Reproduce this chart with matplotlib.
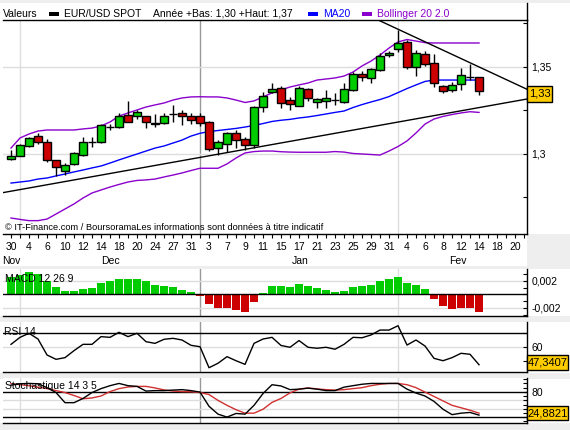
import matplotlib
matplotlib.use('Agg')
import matplotlib.pyplot as plt
from matplotlib.patches import Rectangle
from matplotlib.lines import Line2D
import numpy as np

plt.rcParams['font.family'] = ['Liberation Sans', 'DejaVu Sans']

# ---------------- data ----------------
opens = [1.2971, 1.2990, 1.3048, 1.3105, 1.3067, 1.2964, 1.2904, 1.2941, 1.2994, 1.3070,
         1.3067, 1.3153, 1.3153, 1.3222, 1.3218, 1.3220, 1.3171, 1.3176, 1.3230, 1.3237,
         1.3220, 1.3220, 1.3182, 1.3033, 1.3057, 1.3119, 1.3086, 1.3052, 1.3268, 1.3355,
         1.3378, 1.3310, 1.3278, 1.3372, 1.3301, 1.3305, 1.3310, 1.3297, 1.3368, 1.3458,
         1.3439, 1.3483, 1.3567, 1.3603, 1.3642, 1.3502, 1.3573, 1.3521, 1.3391, 1.3366,
         1.3402, 1.3444, 1.3441]
highs = [1.3023, 1.3057, 1.3099, 1.3119, 1.3084, 1.2964, 1.2947, 1.3013, 1.3098, 1.3099,
         1.3172, 1.3174, 1.3234, 1.3307, 1.3253, 1.3220, 1.3228, 1.3236, 1.3282, 1.3253,
         1.3234, 1.3233, 1.3187, 1.3080, 1.3126, 1.3138, 1.3095, 1.3276, 1.3359, 1.3406,
         1.3393, 1.3328, 1.3391, 1.3379, 1.3322, 1.3368, 1.3349, 1.3406, 1.3471, 1.3479,
         1.3494, 1.3580, 1.3592, 1.3713, 1.3655, 1.3598, 1.3592, 1.3573, 1.3399, 1.3414,
         1.3493, 1.3517, 1.3441]
lows = [1.2964, 1.2989, 1.3042, 1.3056, 1.2956, 1.2874, 1.2879, 1.2937, 1.2989, 1.3042,
        1.3061, 1.3138, 1.3149, 1.3184, 1.3199, 1.3151, 1.3157, 1.3172, 1.3182, 1.3167,
        1.3170, 1.3161, 1.3019, 1.2994, 1.3013, 1.3033, 1.3023, 1.3033, 1.3243, 1.3348,
        1.3263, 1.3253, 1.3273, 1.3306, 1.3265, 1.3263, 1.3282, 1.3293, 1.3362, 1.3420,
        1.3410, 1.3477, 1.3557, 1.3584, 1.3491, 1.3450, 1.3506, 1.3383, 1.3349, 1.3356,
        1.3368, 1.3425, 1.3339]
closes = [1.2989, 1.3052, 1.3090, 1.3067, 1.2964, 1.2924, 1.2935, 1.3004, 1.3067, 1.3071,
          1.3167, 1.3154, 1.3220, 1.3186, 1.3240, 1.3182, 1.3180, 1.3220, 1.3231, 1.3218,
          1.3195, 1.3181, 1.3027, 1.3067, 1.3119, 1.3080, 1.3052, 1.3268, 1.3335, 1.3372,
          1.3291, 1.3287, 1.3378, 1.3324, 1.3314, 1.3320, 1.3311, 1.3372, 1.3458, 1.3444,
          1.3487, 1.3565, 1.3579, 1.3636, 1.3498, 1.3579, 1.3517, 1.3406, 1.3362, 1.3397,
          1.3452, 1.3445, 1.3362]

ma20 = [1.2833, 1.2839, 1.2845, 1.2856, 1.2862, 1.2874, 1.2885, 1.2897, 1.2908, 1.2920,
        1.2931, 1.2948, 1.2966, 1.2983, 1.3000, 1.3017, 1.3034, 1.3046, 1.3063, 1.3080,
        1.3103, 1.3119, 1.3129, 1.3135, 1.3141, 1.3147, 1.3155, 1.3164, 1.3175, 1.3187,
        1.3194, 1.3199, 1.3207, 1.3213, 1.3221, 1.3230, 1.3239, 1.3247, 1.3267, 1.3284,
        1.3299, 1.3313, 1.3330, 1.3353, 1.3376, 1.3397, 1.3417, 1.3425, 1.3425, 1.3425,
        1.3425, 1.3425, 1.3425]
boll_up = [1.3034, 1.3092, 1.3115, 1.3132, 1.3138, 1.3138, 1.3138, 1.3138, 1.3144, 1.3149,
           1.3161, 1.3184, 1.3218, 1.3236, 1.3253, 1.3270, 1.3282, 1.3293, 1.3310, 1.3322,
           1.3328, 1.3329, 1.3328, 1.3328, 1.3322, 1.3310, 1.3296, 1.3305, 1.3328, 1.3351,
           1.3368, 1.3385, 1.3397, 1.3408, 1.3425, 1.3431, 1.3437, 1.3448, 1.3471, 1.3506,
           1.3534, 1.3569, 1.3609, 1.3644, 1.3658, 1.3649, 1.3640, 1.3638, 1.3638, 1.3638,
           1.3638, 1.3638, 1.3638]
boll_low = [1.2632, 1.2624, 1.2617, 1.2617, 1.2626, 1.2655, 1.2684, 1.2713, 1.2747, 1.2776,
            1.2793, 1.2810, 1.2825, 1.2839, 1.2848, 1.2851, 1.2856, 1.2868, 1.2879, 1.2891,
            1.2905, 1.2918, 1.2918, 1.2918, 1.2943, 1.2977, 1.3006, 1.3014, 1.3017, 1.3017,
            1.3013, 1.3011, 1.3010, 1.3010, 1.3010, 1.3010, 1.3014, 1.3011, 1.3003, 1.3000,
            1.2997, 1.2994, 1.3017, 1.3043, 1.3075, 1.3121, 1.3172, 1.3201, 1.3216, 1.3227,
            1.3236, 1.3243, 1.3239]

support_x = [-0.89, 57.33]
support_y = [1.2778, 1.3316]
resist_x = [40.8, 57.33]
resist_y = [1.3770, 1.3372]

macd_hist = [0.0026, 0.0029, 0.0033, 0.0030, 0.0020, 0.0011, 0.0005, 0.0005, 0.0008, 0.0009,
             0.0017, 0.0019, 0.0023, 0.0023, 0.0023, 0.0019, 0.0014, 0.0012, 0.0011, 0.0007,
             0.0003, -0.0002, -0.0015, -0.0021, -0.0021, -0.0023, -0.0026, -0.0012, 0.0002, 0.0013,
             0.0013, 0.0011, 0.0015, 0.0013, 0.0009, 0.0007, 0.0004, 0.0005, 0.0011, 0.0013,
             0.0014, 0.0020, 0.0023, 0.0026, 0.0017, 0.0014, 0.0008, -0.0007, -0.0017, -0.0022,
             -0.0020, -0.0020, -0.0026]

rsi = [61.9, 66.9, 69.8, 65.7, 54.3, 51.2, 52.4, 57.4, 61.9, 61.9,
       67.4, 66.9, 70.5, 67.4, 69.8, 63.8, 62.6, 65.5, 66.2, 65.0,
       61.2, 60.2, 45.2, 48.4, 53.1, 50.2, 47.6, 62.6, 65.7, 66.9,
       61.1, 59.8, 64.6, 59.8, 59.1, 59.8, 58.4, 61.9, 66.9, 66.6,
       68.6, 72.1, 72.1, 75.2, 61.4, 65.0, 60.7, 51.9, 50.2, 52.4,
       55.5, 54.8, 47.34]

stoch_k = [95.8, 99.3, 100.0, 99.3, 90.0, 78.4, 54.4, 54.4, 64.4, 78.4,
           87.7, 94.7, 100.0, 94.7, 93.0, 81.9, 83.0, 83.0, 84.2, 85.3,
           83.0, 79.5, 45.8, 27.2, 20.2, 28.8, 27.2, 48.1, 76.0, 97.0,
           94.0, 85.3, 86.5, 88.8, 86.5, 83.0, 83.0, 91.2, 94.7, 98.1,
           100.0, 100.0, 100.0, 100.0, 86.5, 77.2, 70.2, 57.4, 38.8, 26.0,
           29.5, 31.2, 24.88]
stoch_d = [99.3, 97.0, 94.7, 91.2, 87.7, 83.0, 78.4, 71.4, 63.7, 65.6,
           70.2, 80.7, 87.7, 91.6, 93.0, 93.0, 89.3, 84.7, 81.9, 80.7,
           80.2, 78.4, 73.7, 59.8, 48.1, 37.7, 29.5, 29.5, 38.8, 55.1,
           64.4, 77.7, 86.5, 89.3, 87.0, 85.3, 84.2, 85.3, 87.7, 90.0,
           94.7, 98.1, 100.0, 100.0, 97.0, 90.0, 79.5, 69.1, 58.6, 48.1,
           42.3, 36.5, 29.5]

day_labels = ['30', '4', '6', '10', '12', '14', '18', '20', '24', '27', '31', '3', '7', '9',
              '11', '15', '17', '21', '23', '25', '29', '31', '4', '6', '8', '12', '14', '18', '20']
month_labels = ['Nov', 'Dec', 'Jan', 'Fev']
month_label_pos = [0.0, 11.1, 32.1, 49.7]
month_starts = [1, 21, 43]
year_start = 21

# ---------------- layout helpers ----------------
W, H = 570, 430
fig = plt.figure(figsize=(W / 100, H / 100), dpi=100, facecolor='#EEEEEE')

GREEN = '#00CC00'
RED = '#CC0000'
PURPLE = '#8A00CC'
BLUE = '#0000FF'
GRID = '#DDDDDD'
YEL = '#FFCC00'
FS = 7.5


def add_ax(l, t, r, b):
    return fig.add_axes([l / W, 1 - b / H, (r - l) / W, (b - t) / H])


def bg(l, t, r, b, color='white'):
    fig.add_artist(Rectangle((l / W, 1 - b / H), (r - l) / W, (b - t) / H,
                             transform=fig.transFigure, facecolor=color,
                             edgecolor='none', zorder=-10))


def ftext(x, y, s, **kw):
    kw.setdefault('fontsize', FS)
    kw.setdefault('va', 'center')
    fig.text(x / W, 1 - y / H, s, **kw)


def value_box(l, t, r, b, s):
    fig.add_artist(Rectangle((l / W, 1 - b / H), (r - l) / W, (b - t) / H,
                             transform=fig.transFigure, facecolor=YEL,
                             edgecolor='black', linewidth=1.0, zorder=20))
    fig.text((l + r) / 2 / W, 1 - (t + b) / 2 / H, s, fontsize=8, ha='center',
             va='center', zorder=21)


bg(0, 3, 570, 234)
bg(0, 234, 527, 266)
bg(0, 269, 570, 316)
bg(0, 322, 570, 372.5)
bg(0, 378.5, 570, 423)

idx = np.arange(len(opens))
XL = (-0.89, 57.33)


def style_panel(ax):
    ax.set_xlim(*XL)
    for s in ['left', 'top']:
        ax.spines[s].set_visible(False)
    for s in ['bottom', 'right']:
        ax.spines[s].set_color('black')
        ax.spines[s].set_linewidth(1.0)
    ax.yaxis.tick_right()
    ax.tick_params(axis='y', direction='in', length=3, width=0.8, labelsize=FS, pad=3)
    ax.set_xticks([])
    for m in month_starts:
        ax.axvline(m, color=('#999999' if m == year_start else GRID), lw=1.0, zorder=0)


# ---------------- main price chart ----------------
ax = add_ax(3, 20, 527, 234)
style_panel(ax)
ax.spines['top'].set_visible(True)
ax.spines['top'].set_linewidth(1.0)
ax.set_ylim(1.25402, 1.37701)
ax.set_yticks([1.275, 1.30, 1.325, 1.35, 1.375])
ax.set_yticklabels(['', '1,3', '', '1,35', ''])
ax.axhline(1.30, color=GRID, lw=1.0, zorder=0)
ax.axhline(1.35, color=GRID, lw=1.0, zorder=0)

ax.set_xticks(np.arange(0, 57, 2))
ax.set_xticklabels(day_labels)
ax.set_xticks(idx.tolist() + [53, 54, 55, 56, 57], minor=True)
ax.tick_params(axis='x', which='both', direction='out', length=3, width=0.8,
               labelsize=FS, pad=2.5)

ax.plot(idx, boll_up, color=PURPLE, lw=1.0, zorder=2)
ax.plot(idx, boll_low, color=PURPLE, lw=1.0, zorder=2)
ax.plot(idx, ma20, color=BLUE, lw=1.0, zorder=2)
ax.plot(support_x, support_y, color='black', lw=1.0, zorder=2)
ax.plot(resist_x, resist_y, color='black', lw=1.0, zorder=2)

o = np.array(opens); c = np.array(closes)
cols = [GREEN if cc >= oo else RED for oo, cc in zip(o, c)]
ax.vlines(idx, lows, highs, color='black', lw=1.0, zorder=3)
ax.bar(idx, np.maximum(np.abs(c - o), 0.00008), bottom=np.minimum(o, c), width=0.8,
       color=cols, edgecolor='black', linewidth=1.0, zorder=4)

for lab, pos in zip(month_labels, month_label_pos):
    ax.text(pos, -0.124, lab, transform=ax.get_xaxis_transform(), ha='center',
            va='center', fontsize=FS)

ftext(5, 228, '\u00a9 IT-Finance.com / BoursoramaLes informations sont donn\u00e9es \u00e0 titre indicatif',
      fontsize=6.7, ha='left')

# right spine extension into header
fig.add_artist(Line2D([526.5 / W, 526.5 / W], [1 - 3 / H, 1 - 20 / H], color='black',
                      lw=1.0, transform=fig.transFigure))

# header
ftext(3, 14, 'Valeurs', ha='left')
fig.add_artist(Rectangle((49 / W, 1 - 15.5 / H), 10 / W, 3 / H, transform=fig.transFigure,
                         facecolor='black', edgecolor='none'))
ftext(64, 14, 'EUR/USD SPOT', ha='left')
ftext(153, 14, 'Ann\u00e9e +Bas: 1,30 +Haut: 1,37', ha='left')
fig.add_artist(Rectangle((308 / W, 1 - 15.5 / H), 10 / W, 3 / H, transform=fig.transFigure,
                         facecolor=BLUE, edgecolor='none'))
ftext(323, 14, 'MA20', ha='left', color=BLUE)
fig.add_artist(Rectangle((362 / W, 1 - 15.5 / H), 10 / W, 3 / H, transform=fig.transFigure,
                         facecolor=PURPLE, edgecolor='none'))
ftext(377, 14, 'Bollinger 20 2.0', ha='left', color=PURPLE)

value_box(527, 86, 552, 102, '1,33')

# ---------------- MACD ----------------
ax2 = add_ax(3, 269, 527, 316)
style_panel(ax2)
ax2.set_ylim(-0.003215, 0.003748)
ax2.set_yticks([-0.003, -0.002, -0.001, 0, 0.001, 0.002, 0.003])
ax2.set_yticklabels(['', '-0,002', '', '', '', '0,002', ''])
ax2.axhline(0.002, color=GRID, lw=1.0, zorder=0)
ax2.axhline(-0.002, color=GRID, lw=1.0, zorder=0)
mh = np.array(macd_hist)
ax2.bar(idx, mh, width=0.88, color=[GREEN if v >= 0 else RED for v in mh], zorder=2)
ax2.axhline(0, color='black', lw=1.0, zorder=3)
ax2.text(0.004, 0.78, 'MACD 12 26 9', transform=ax2.transAxes, fontsize=FS,
         ha='left', va='center', zorder=5)

# ---------------- RSI ----------------
ax3 = add_ax(3, 322, 527, 372.3)
style_panel(ax3)
ax3.set_ylim(41.93, 77.86)
ax3.set_yticks([50, 60, 70])
ax3.set_yticklabels(['', '60', ''])
ax3.axhline(60, color=GRID, lw=1.0, zorder=0)
ax3.axhline(70, color='black', lw=1.0, zorder=1)
ax3.plot(idx, rsi, color='black', lw=1.0, zorder=2)
ax3.text(0.002, 0.8, 'RSI 14', transform=ax3.transAxes, fontsize=FS,
         ha='left', va='center', zorder=5)
value_box(527, 355, 568, 370, '47,3407')

# ---------------- Stochastic ----------------
ax4 = add_ax(3, 378.3, 527, 422.7)
style_panel(ax4)
ax4.set_ylim(6.9, 112.2)
ax4.set_yticks(np.arange(10, 111, 10))
ax4.set_yticklabels(['' if v not in (20, 80) else str(v) for v in range(10, 111, 10)])
ax4.axhline(40, color=GRID, lw=1.0, zorder=0)
ax4.axhline(60, color=GRID, lw=1.0, zorder=0)
ax4.axhline(80, color='black', lw=1.0, zorder=1)
ax4.axhline(20, color='black', lw=1.0, zorder=1)
ax4.plot(idx, stoch_d, color='#D03030', lw=1.0, zorder=2)
ax4.plot(idx, stoch_k, color='black', lw=1.0, zorder=3)
ax4.text(0.004, 0.82, 'Stochastique 14 3 5', transform=ax4.transAxes, fontsize=FS,
         ha='left', va='center', zorder=5)
value_box(527, 406, 568, 420, '24,8821')

fig.savefig('out.png', dpi=100, facecolor=fig.get_facecolor())
